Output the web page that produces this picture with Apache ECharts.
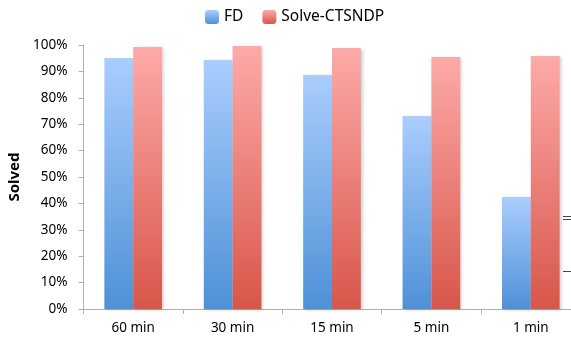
<!DOCTYPE html>
<html>
<head>
<meta charset="utf-8">
<script src="https://cdn.jsdelivr.net/npm/echarts@6/dist/echarts.min.js"></script>
<style>html,body{margin:0;padding:0;background:#fff;}#c{width:571px;height:341px;}</style>
</head>
<body>
<div id="c"></div>
<script>
var categories = ['60 min', '30 min', '15 min', '5 min', '1 min'];
var fdValues = [95.1, 94.3, 88.6, 73.1, 42.4];
var solveValues = [99.2, 99.6, 98.9, 95.5, 95.8];
var seriesNames = ['FD', 'Solve-CTSNDP'];
var yTicks = [0, 10, 20, 30, 40, 50, 60, 70, 80, 90, 100];

var FONT = '"Noto Sans", "Open Sans", sans-serif';
function grad(top, bottom) {
  return new echarts.graphic.LinearGradient(0, 0, 0, 1, [
    {offset: 0, color: top}, {offset: 1, color: bottom}
  ]);
}
var chart = echarts.init(document.getElementById('c'));
chart.setOption({
  animation: false,
  legend: {
    top: 4, left: 200,
    itemWidth: 14, itemHeight: 14, itemGap: 19,
    textStyle: {fontFamily: FONT, fontSize: 15.5, color: '#000'},
    data: seriesNames
  },
  grid: {left: 83.5, width: 497, top: 45, height: 264, containLabel: false, outerBoundsMode: 'none'},
  xAxis: {
    type: 'category',
    data: categories,
    axisLine: {lineStyle: {color: '#b0b0b0', width: 1}},
    axisTick: {show: true, length: 5, lineStyle: {color: '#b0b0b0'}},
    axisLabel: {fontFamily: FONT, fontSize: 13.5, color: '#000', margin: 12}
  },
  yAxis: {
    type: 'value',
    min: yTicks[0], max: yTicks[yTicks.length - 1], interval: 10,
    name: 'Solved', nameLocation: 'middle', nameGap: 61, nameRotate: 90,
    nameTextStyle: {fontFamily: FONT, fontSize: 15, fontWeight: 'bold', color: '#000'},
    axisLine: {show: true, lineStyle: {color: '#b0b0b0', width: 1}},
    axisTick: {show: true, length: 5, lineStyle: {color: '#b0b0b0'}},
    splitLine: {show: false},
    axisLabel: {fontFamily: FONT, fontSize: 13.5, color: '#000', margin: 16, formatter: '{value}%'}
  },
  series: [
    {
      name: seriesNames[0], type: 'bar', data: fdValues,
      barGap: '0%', barCategoryGap: '42%',
      itemStyle: {color: grad('#aacdfd', '#4e91d7'), shadowColor: 'rgba(0,0,0,0.18)', shadowBlur: 3, shadowOffsetX: 2, shadowOffsetY: 1}
    },
    {
      name: seriesNames[1], type: 'bar', data: solveValues,
      barGap: '0%', barCategoryGap: '42%',
      itemStyle: {color: grad('#fdaaa8', '#d8564a'), shadowColor: 'rgba(0,0,0,0.18)', shadowBlur: 3, shadowOffsetX: 2, shadowOffsetY: 1}
    }
  ],
  graphic: [
    {type: 'line', shape: {x1: 563, y1: 216.5, x2: 571, y2: 216.5}, style: {stroke: '#444', lineWidth: 1}},
    {type: 'line', shape: {x1: 563, y1: 219.5, x2: 571, y2: 219.5}, style: {stroke: '#444', lineWidth: 1}},
    {type: 'line', shape: {x1: 563, y1: 271.5, x2: 571, y2: 271.5}, style: {stroke: '#444', lineWidth: 1}}
  ]
});
</script>
</body>
</html>
